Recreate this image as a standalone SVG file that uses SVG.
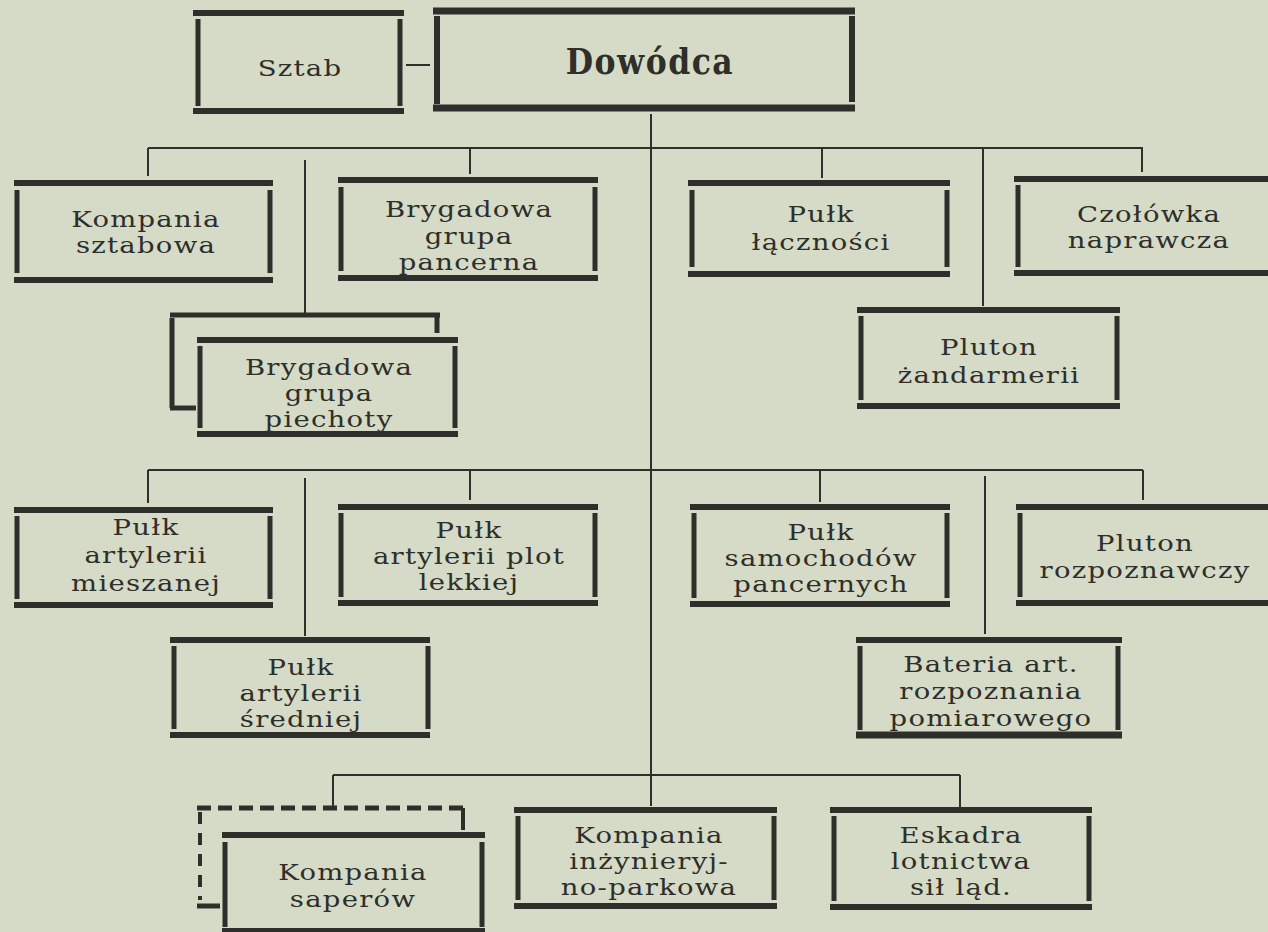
<svg xmlns="http://www.w3.org/2000/svg" width="1268" height="932" viewBox="0 0 1268 932">
<style>
.bg{fill:#d5dbc7}
.h{stroke:#2e2e2a;stroke-width:6;fill:none}
.v{stroke:#2e2e2a;stroke-width:5;fill:none}
.c{stroke:#2e2e2a;stroke-width:2;fill:none}
.d{stroke:#2e2e2a;stroke-width:5;fill:none;stroke-dasharray:14 7}
.dv{stroke:#2e2e2a;stroke-width:4;fill:none;stroke-dasharray:12 9}
text{font-family:"DejaVu Serif","Liberation Serif",serif;font-size:22px;fill:#2e2e2a;text-anchor:middle;letter-spacing:1px}
.b{font-family:"DejaVu Serif Condensed","DejaVu Serif",serif;font-weight:bold;font-size:35px;letter-spacing:1.5px}
</style>
<rect class="bg" x="0" y="0" width="1268" height="932"/>
<g id="connectors">
<path class="c" d="M406 65H430"/>
<path class="c" d="M651 114V775"/>
<path class="c" d="M148 148H1143M148 148V176M470 148V174M822 148V178M1142 148V172"/>
<path class="c" d="M305 160V314M983 148V306"/>
<path class="c" d="M148 470H1143M148 470V503M470 470V500M820 470V502M1143 470V500"/>
<path class="c" d="M305 478V636M985 476V634"/>
<path class="c" d="M333 775H960M333 775V806M651 775V806M960 775V808"/>
</g>
<g id="sztab">
<path class="h" d="M193 13H404M193 111H404"/>
<path class="v" d="M198 19V106M400 19V106"/>
<g transform="translate(300 0) scale(1.25 1)"><text x="0" y="76">Sztab</text></g>
</g>
<g id="dowodca">
<path class="h" d="M433 11H855M433 108H855" style="stroke-width:7"/>
<path class="v" d="M437 16V104M852 16V102" style="stroke-width:6"/>
<text class="b" x="650" y="74">Dowódca</text>
</g>
<g id="kompania-sztabowa">
<path class="h" d="M14 183H273M14 280H273"/>
<path class="v" d="M17 190V273M270 190V273"/>
<g transform="translate(146 0) scale(1.25 1)"><text x="0" y="227">Kompania</text><text x="0" y="253">sztabowa</text></g>
</g>
<g id="bryg-pancerna">
<path class="h" d="M338 180H598M338 278H598"/>
<path class="v" d="M341 187V271M595 187V271"/>
<g transform="translate(469 0) scale(1.25 1)"><text x="0" y="217">Brygadowa</text><text x="0" y="244">grupa</text><text x="0" y="270">pancerna</text></g>
</g>
<g id="pulk-lacznosci">
<path class="h" d="M688 183H950M688 274H950"/>
<path class="v" d="M692 190V267M947 190V267"/>
<g transform="translate(821 0) scale(1.25 1)"><text x="0" y="222">Pułk</text><text x="0" y="250">łączności</text></g>
</g>
<g id="czolowka">
<path class="h" d="M1014 179H1268M1014 273H1268"/>
<path class="v" d="M1018 185V267"/>
<g transform="translate(1149 0) scale(1.25 1)"><text x="0" y="222">Czołówka</text><text x="0" y="248">naprawcza</text></g>
</g>
<g id="pluton-zandarmerii">
<path class="h" d="M857 310H1120M857 406H1120"/>
<path class="v" d="M861 316V400M1117 316V400"/>
<g transform="translate(989 0) scale(1.25 1)"><text x="0" y="355">Pluton</text><text x="0" y="383">żandarmerii</text></g>
</g>
<g id="bryg-piechoty">
<path class="h" d="M170 315H440" style="stroke-width:5"/>
<path class="v" d="M437 315V333M172 318V408"/>
<path class="h" d="M170 408H196" style="stroke-width:5"/>
<path class="h" d="M197 340H458M197 434H458"/>
<path class="v" d="M200 346V428M455 346V428"/>
<g transform="translate(329 0) scale(1.25 1)"><text x="0" y="375">Brygadowa</text><text x="0" y="401">grupa</text><text x="0" y="427">piechoty</text></g>
</g>
<g id="pulk-art-mieszanej">
<path class="h" d="M14 510H273M14 605H273"/>
<path class="v" d="M17 516V599M270 516V599"/>
<g transform="translate(146 0) scale(1.25 1)"><text x="0" y="535">Pułk</text><text x="0" y="563">artylerii</text><text x="0" y="591">mieszanej</text></g>
</g>
<g id="pulk-art-plot">
<path class="h" d="M338 507H598M338 603H598"/>
<path class="v" d="M341 513V597M595 513V597"/>
<g transform="translate(469 0) scale(1.25 1)"><text x="0" y="538">Pułk</text><text x="0" y="564">artylerii  plot</text><text x="0" y="590">lekkiej</text></g>
</g>
<g id="pulk-samochodow">
<path class="h" d="M690 507H950M690 604H950"/>
<path class="v" d="M694 513V598M947 513V598"/>
<g transform="translate(821 0) scale(1.25 1)"><text x="0" y="540">Pułk</text><text x="0" y="566">samochodów</text><text x="0" y="592">pancernych</text></g>
</g>
<g id="pluton-rozpoznawczy">
<path class="h" d="M1016 507H1268M1016 603H1268"/>
<path class="v" d="M1020 513V597"/>
<g transform="translate(1145 0) scale(1.25 1)"><text x="0" y="551">Pluton</text><text x="0" y="578">rozpoznawczy</text></g>
</g>
<g id="pulk-art-sredniej">
<path class="h" d="M170 640H430M170 735H430"/>
<path class="v" d="M174 646V729M428 646V729"/>
<g transform="translate(301 0) scale(1.25 1)"><text x="0" y="675">Pułk</text><text x="0" y="701">artylerii</text><text x="0" y="727">średniej</text></g>
</g>
<g id="bateria">
<path class="h" d="M856 640H1122"/>
<path class="v" d="M860 646V730M1118 646V730"/>
<g transform="translate(991 0) scale(1.25 1)"><text x="0" y="672">Bateria  art.</text><text x="0" y="699">rozpoznania</text><text x="0" y="726">pomiarowego</text></g>
<path class="h" d="M856 735H1122" style="stroke-width:7"/>
</g>
<g id="kompania-saperow">
<path class="d" d="M197 808H463"/>
<path class="v" d="M463 808V830" style="stroke-width:4"/>
<path class="dv" d="M200 812V900"/>
<path class="h" d="M197 906H220" style="stroke-width:5"/>
<path class="h" d="M222 835H485M222 931H485"/>
<path class="v" d="M225 842V927M482 842V927"/>
<g transform="translate(353 0) scale(1.25 1)"><text x="0" y="880">Kompania</text><text x="0" y="907">saperów</text></g>
</g>
<g id="kompania-inzynieryjna">
<path class="h" d="M514 810H777M514 906H777"/>
<path class="v" d="M518 816V900M774 816V900"/>
<g transform="translate(649 0) scale(1.25 1)"><text x="0" y="843">Kompania</text><text x="0" y="869">inżynieryj-</text><text x="0" y="895">no-parkowa</text></g>
</g>
<g id="eskadra">
<path class="h" d="M830 810H1092M830 907H1092"/>
<path class="v" d="M834 816V901M1089 816V901"/>
<g transform="translate(961 0) scale(1.25 1)"><text x="0" y="843">Eskadra</text><text x="0" y="869">lotnictwa</text><text x="0" y="895">sił  ląd.</text></g>
</g>
</svg>
